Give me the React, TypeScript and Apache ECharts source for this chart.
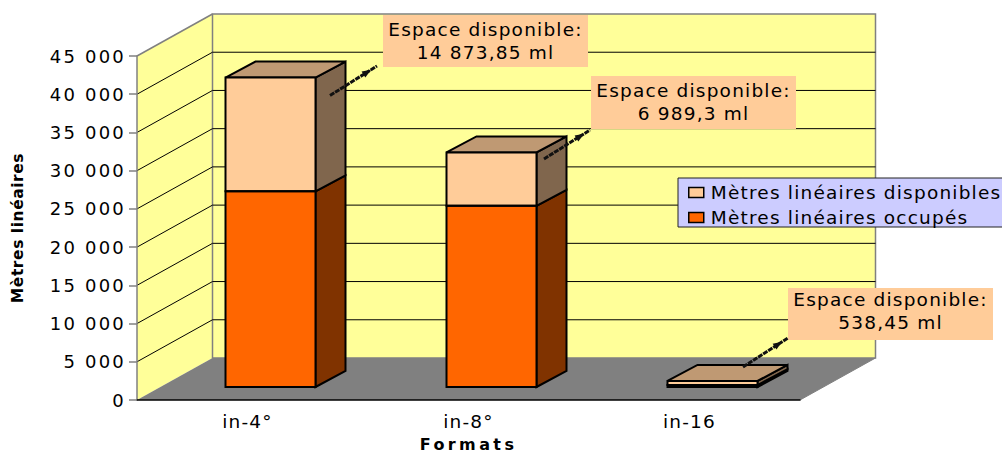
import React, { useEffect, useRef } from "react";
import * as echarts from "echarts";

const categories = ["in-4°", "in-8°", "in-16"];
const occupiedName = "Mètres linéaires occupés";
const availableName = "Mètres linéaires disponibles";
const occupied = [25600, 23700, 250];
const available = [14873.85, 6989.3, 538.45];
const calloutTexts = [
  "Espace disponible:\n14 873,85 ml",
  "Espace disponible:\n6 989,3 ml",
  "Espace disponible:\n538,45 ml",
];
const yTicks = [0, 5000, 10000, 15000, 20000, 25000, 30000, 35000, 40000, 45000];
const yTickLabels = ["0", "5 000", "10 000", "15 000", "20 000", "25 000", "30 000", "35 000", "40 000", "45 000"];

const FONT = '"DejaVu Sans", Verdana, sans-serif';
const WALL = "#FFFF99";
const EDGE = "#808080";
const ORANGE = "#FF6600";
const PEACH = "#FFCC99";
const DX = 75.5, DY = -42; // depth of the chart box
const BDX = 30, BDY = -16; // depth of a bar

function arrow(x1: number, y1: number, x2: number, y2: number) {
  const len = Math.hypot(x2 - x1, y2 - y1);
  const ux = (x2 - x1) / len, uy = (y2 - y1) / len;
  const px = -uy, py = ux;
  const tx = x2 - ux * 7, ty = y2 - uy * 7;
  const bx = tx - ux * 9, by = ty - uy * 9;
  return [
    { type: "line", z: 8, shape: { x1, y1, x2, y2 }, style: { stroke: "#111", lineWidth: 3, lineDash: [5, 1] } },
    { type: "polygon", z: 8, shape: { points: [[tx, ty], [bx + px * 3.5, by + py * 3.5], [bx - px * 3.5, by - py * 3.5]] }, style: { fill: "#111" } },
  ];
}

function callout(x: number, y: number, height: number, textY: number, text: string) {
  return [
    { type: "rect", z: 7, shape: { x, y, width: 205, height }, style: { fill: PEACH } },
    {
      type: "text", z: 9, x: x + 102.5, y: textY,
      style: { text, align: "center", verticalAlign: "middle", font: `18.5px ${FONT}`, lineHeight: 22.5, fill: "#000" },
    },
  ];
}

export default function App() {
  const ref = useRef<HTMLDivElement>(null);
  useEffect(() => {
    const chart = echarts.init(ref.current!, null, { renderer: "svg" });
    const boxData: number[][] = [];
    categories.forEach((_, i) => {
      boxData.push([i, 0, occupied[i], 0]);
      boxData.push([i, occupied[i], occupied[i] + available[i], 1]);
    });
    const commonY = { type: "value", min: 0, max: 45000, interval: 5000 };
    chart.setOption({
      animation: false,
      backgroundColor: "#fff",
      textStyle: { fontFamily: FONT },
      grid: [
        { left: 137, top: 56, width: 663, height: 344, outerBoundsMode: "none" },
        { left: 160, top: 43, width: 663, height: 344, outerBoundsMode: "none" },
      ],
      xAxis: [
        {
          type: "category", data: categories, gridIndex: 0, z: 2,
          axisLine: { lineStyle: { color: "#000", width: 1.5 } },
          axisTick: { length: 7, lineStyle: { color: EDGE, width: 1.5 } },
          axisLabel: { fontSize: 18.5, color: "#000", margin: 12, fontFamily: FONT },
          name: "Formats", nameLocation: "middle", nameGap: 37.5,
          nameTextStyle: { fontWeight: "bold", fontSize: 16, lineHeight: 14, color: "#000", fontFamily: FONT },
        },
        { type: "category", data: categories, gridIndex: 1, show: false },
      ],
      yAxis: [
        {
          ...commonY, gridIndex: 0, z: 2,
          axisLine: { show: true, lineStyle: { color: EDGE, width: 1.5 } },
          axisTick: { show: true, length: 8, lineStyle: { color: EDGE, width: 1.5 } },
          splitLine: { show: false },
          axisLabel: { fontSize: 18, color: "#000", margin: 11, fontFamily: FONT, formatter: (v: number) => yTickLabels[yTicks.indexOf(v)] },
          name: "Mètres linéaires", nameLocation: "middle", nameGap: 111,
          nameTextStyle: { fontWeight: "bold", fontSize: 15.5, color: "#000", fontFamily: FONT },
        },
        { ...commonY, gridIndex: 1, show: false },
      ],
      legend: {
        orient: "vertical", left: 688, top: 183, padding: 0, z: 6, itemGap: 6,
        itemWidth: 15, itemHeight: 10, icon: "rect",
        data: [
          { name: availableName, itemStyle: { borderColor: "#000", borderWidth: 1.5 } },
          { name: occupiedName, itemStyle: { borderColor: "#000", borderWidth: 1.5 } },
        ],
        textStyle: { fontSize: 18.5, color: "#000", fontFamily: FONT, padding: [0, 0, 0, 2] },
      },
      series: [
        {
          type: "custom", name: "walls", xAxisIndex: 0, yAxisIndex: 0, z: 1, silent: true, data: [[0, 0]],
          renderItem: (params: any, api: any) => {
            const c = params.coordSys;
            const l = c.x, r = c.x + c.width;
            const y0 = api.coord([0, 0])[1], yT = api.coord([0, 45000])[1];
            return {
              type: "group",
              children: [
                { type: "polygon", shape: { points: [[l, y0], [l + DX, y0 + DY], [l + DX, yT + DY], [l, yT]] }, style: { fill: WALL } },
                { type: "polygon", shape: { points: [[l + DX, y0 + DY], [r + DX, y0 + DY], [r + DX, yT + DY], [l + DX, yT + DY]] }, style: { fill: WALL, stroke: EDGE, lineWidth: 1.5 } },
                { type: "polygon", shape: { points: [[l, y0], [r, y0], [r + DX, y0 + DY], [l + DX, y0 + DY]] }, style: { fill: EDGE } },
                { type: "polyline", shape: { points: [[l, yT], [l + DX, yT + DY]] }, style: { stroke: EDGE, lineWidth: 1.5, fill: "none" } },
                { type: "polyline", shape: { points: [[r, y0], [r + DX, y0 + DY]] }, style: { stroke: EDGE, lineWidth: 1, fill: "none" } },
              ],
            };
          },
        },
        {
          type: "custom", name: "gridlines", xAxisIndex: 0, yAxisIndex: 0, z: 1, silent: true,
          data: yTicks.slice(1, -1).map((v) => [0, v]),
          renderItem: (params: any, api: any) => {
            const c = params.coordSys;
            const y = api.coord([0, api.value(1)])[1];
            return {
              type: "polyline",
              shape: { points: [[c.x, y], [c.x + DX, y + DY], [c.x + c.width + DX, y + DY]] },
              style: { stroke: "#000", lineWidth: 1, fill: "none" },
            };
          },
        },
        {
          type: "custom", name: "faces", xAxisIndex: 1, yAxisIndex: 1, z: 3, silent: true, data: boxData,
          renderItem: (params: any, api: any) => {
            const i = api.value(0), lo = api.value(1), hi = api.value(2), seg = api.value(3);
            const half = 45;
            const xc = api.coord([i, 0])[0];
            const yLo = api.coord([i, lo])[1], yHi = api.coord([i, hi])[1];
            const xr = xc + half, xl = xc - half;
            const children: any[] = [
              {
                type: "polygon",
                shape: { points: [[xr, yLo], [xr + BDX, yLo + BDY], [xr + BDX, yHi + BDY], [xr, yHi]] },
                style: { fill: seg ? "#80664D" : "#803300", stroke: "#000", lineWidth: 2 },
              },
            ];
            if (seg) {
              children.push({
                type: "polygon",
                shape: { points: [[xl, yHi], [xl + BDX, yHi + BDY], [xr + BDX, yHi + BDY], [xr, yHi]] },
                style: { fill: "#BF9973", stroke: "#000", lineWidth: 2 },
              });
            }
            return { type: "group", children };
          },
        },
        {
          type: "bar", name: occupiedName, data: occupied, stack: "total", xAxisIndex: 1, yAxisIndex: 1, barWidth: 90, z: 4,
          itemStyle: { color: ORANGE },
        },
        {
          type: "bar", name: availableName, data: available, stack: "total", xAxisIndex: 1, yAxisIndex: 1, barWidth: 90, z: 4,
          itemStyle: { color: PEACH },
        },
        {
          type: "custom", name: "outlines", xAxisIndex: 1, yAxisIndex: 1, z: 5, silent: true, data: boxData,
          renderItem: (params: any, api: any) => {
            const i = api.value(0), lo = api.value(1), hi = api.value(2);
            const xc = api.coord([i, 0])[0];
            const yLo = api.coord([i, lo])[1], yHi = api.coord([i, hi])[1];
            return {
              type: "rect",
              shape: { x: xc - 45, y: yHi, width: 90, height: yLo - yHi },
              style: { fill: "none", stroke: "#000", lineWidth: 2 },
            };
          },
        },
      ],
      graphic: [
        { type: "rect", z: 5, shape: { x: 678, y: 178, width: 326, height: 49 }, style: { fill: "#CCCCFF", stroke: "#222", lineWidth: 1 } },
        ...callout(383, 15, 52, 41, calloutTexts[0]),
        ...callout(591, 76, 53, 102, calloutTexts[1]),
        ...callout(788, 288, 52, 311, calloutTexts[2]),
        ...arrow(330, 95.5, 377, 66),
        ...arrow(544, 159, 590, 130),
        ...arrow(743, 367, 788, 338),
      ],
    });
    return () => chart.dispose();
  }, []);
  return (
    <>
      <style>{`
        #chart text { letter-spacing: 1.2px; }
        #chart text[style*="18px"] { letter-spacing: 2.2px; }
        #chart text[style*="15.5px"] { letter-spacing: 0.55px; }
        #chart text[style*="16px"] { letter-spacing: 3.4px; }
      `}</style>
      <div id="chart" ref={ref} style={{ position: "absolute", left: 0, top: 0, width: 1002, height: 454 }} />
    </>
  );
}
